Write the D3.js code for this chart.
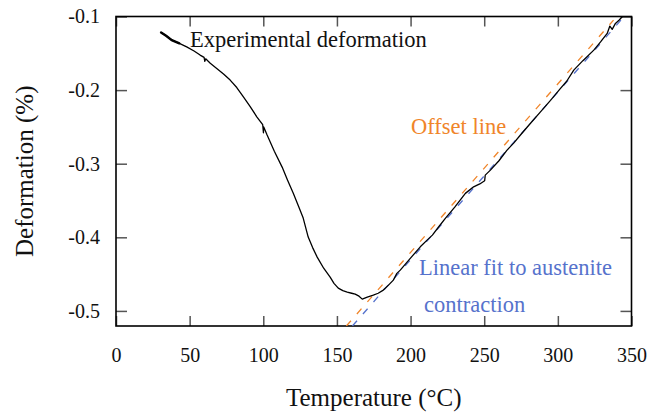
<!DOCTYPE html>
<html>
<head>
<meta charset="utf-8">
<script src="https://cdn.jsdelivr.net/npm/d3@7"></script>
<style>
  html, body { margin: 0; padding: 0; background: #fff; }
  svg { display: block; font-family: "Liberation Serif", "Times New Roman", serif; }
</style>
</head>
<body>
<svg id="chart" width="651" height="416"></svg>
<script>
// ---- data ----
const xTicks = [0, 50, 100, 150, 200, 250, 300, 350];
const yTicks = [-0.5, -0.4, -0.3, -0.2, -0.1];

// Experimental deformation curve: temperature (°C)
const expTemp = [30.6, 34.0, 37.9, 43.0, 48.0, 53.0, 57.1, 59.8, 60.3, 60.9, 64.0, 68.4, 73.0, 77.5, 82.0, 86.5, 91.0,
  95.6, 99.6, 100.1, 100.3, 102.6, 107.5, 112.8, 116.5, 120.3, 124.0, 127.1, 130.5, 133.5, 136.6, 141.0, 145.4, 148.0, 150.9,
  154.0, 157.0, 160.0, 162.4, 165.0, 167.2, 170.6, 174.7, 178.0, 181.5, 185.0, 188.3, 190.7, 193.0, 199.8, 206.6,
  211.2, 214.8, 219.0, 223.6, 230.0, 237.2, 242.8, 247.0, 250.3, 250.7, 254.2, 260.0, 265.5, 270.0, 274.6, 281.0,
  288.2, 295.0, 301.8, 306.0, 310.8, 317.0, 324.4, 329.0, 333.5, 335.3, 336.9, 339.1, 341.5, 343.7];
// Experimental deformation curve: deformation (%)
const expDef = [-0.1216, -0.1262, -0.1321, -0.1365, -0.1412, -0.1468, -0.1524, -0.1555, -0.1610, -0.1575, -0.1635, -0.1705, -0.1780, -0.1864, -0.1965, -0.2091, -0.2220,
  -0.2363, -0.2470, -0.2580, -0.2500, -0.2611, -0.2830, -0.3046, -0.3225, -0.3399, -0.3580, -0.3739, -0.3997, -0.4140, -0.4269, -0.4420, -0.4541, -0.4625, -0.4690,
  -0.4725, -0.4745, -0.4760, -0.4772, -0.4800, -0.4840, -0.4813, -0.4785, -0.4760, -0.4717, -0.4650, -0.4582, -0.4490, -0.4446, -0.4287, -0.4129,
  -0.4038, -0.3970, -0.3860, -0.3743, -0.3590, -0.3403, -0.3314, -0.3275, -0.3232, -0.3155, -0.3087, -0.2960, -0.2815, -0.2720, -0.2610, -0.2460,
  -0.2295, -0.2140, -0.1977, -0.1880, -0.1728, -0.1600, -0.1457, -0.1345, -0.1230, -0.1130, -0.1175, -0.1094, -0.1050, -0.1004];

// Offset line (orange dashed): temperature, deformation
const offsetTemp = [156.4, 337.8];
const offsetDef = [-0.5205, -0.1049];
// Linear fit to austenite contraction (blue dashed): temperature, deformation
const fitTemp = [160.5, 345.0];
const fitDef = [-0.5205, -0.1000];

// Annotation texts
const labelTexts = ["Experimental deformation", "Offset line", "Linear fit to austenite", "contraction"];

// ---- layout ----
const svg = d3.select("#chart");
const L = 116, R = 631.5, T = 16.5, B = 326;
const x = d3.scaleLinear().domain([0, 350]).range([L, R]);
const y = d3.scaleLinear().domain([-0.5205, -0.1]).range([B, T]);

const orange = "#F0852A";
const blue = "#5672CC";

svg.append("defs").append("clipPath").attr("id", "clip")
  .append("rect").attr("x", L).attr("y", T).attr("width", R - L).attr("height", B - T);

// axes with inward ticks
const tickColor = "#555";
const gB = svg.append("g").attr("transform", `translate(0,${B})`)
  .call(d3.axisBottom(x).tickValues(xTicks).tickSizeInner(-10).tickSizeOuter(0).tickPadding(22)
    .tickFormat(d => String(d)));
const gT = svg.append("g").attr("transform", `translate(0,${T})`)
  .call(d3.axisTop(x).tickValues(xTicks).tickSizeInner(-10).tickSizeOuter(0).tickFormat(""));
const gL = svg.append("g").attr("transform", `translate(${L},0)`)
  .call(d3.axisLeft(y).tickValues(yTicks).tickSizeInner(-11).tickSizeOuter(0).tickPadding(16)
    .tickFormat(d => d.toFixed(1)));
const gR = svg.append("g").attr("transform", `translate(${R},0)`)
  .call(d3.axisRight(y).tickValues(yTicks).tickSizeInner(-11).tickSizeOuter(0).tickFormat(""));

[gB, gT, gL, gR].forEach(g => {
  g.select(".domain").remove();
  g.selectAll(".tick line").attr("stroke", tickColor).attr("stroke-width", 1.5);
  g.selectAll(".tick text").attr("fill", "#111").attr("font-size", 20)
    .attr("font-family", "'Liberation Serif', serif");
});

// frame
svg.append("rect").attr("x", L).attr("y", T).attr("width", R - L).attr("height", B - T)
  .attr("fill", "none").attr("stroke", "#000").attr("stroke-width", 1.6);

const line = d3.line().x(d => x(d[0])).y(d => y(d[1]));
const plot = svg.append("g").attr("clip-path", "url(#clip)");

plot.append("path").datum(offsetTemp.map((t, i) => [t, offsetDef[i]]))
  .attr("d", line).attr("fill", "none").attr("stroke", orange)
  .attr("stroke-width", 1.3).attr("stroke-dasharray", "7,9");

plot.append("path").datum(fitTemp.map((t, i) => [t, fitDef[i]]))
  .attr("d", line).attr("fill", "none").attr("stroke", blue)
  .attr("stroke-width", 1.3).attr("stroke-dasharray", "7,9");

const expPts = expTemp.map((t, i) => [t, expDef[i]]);
plot.append("path").datum(expPts)
  .attr("d", line).attr("fill", "none").attr("stroke", "#000")
  .attr("stroke-width", 1.3).attr("stroke-linejoin", "round");
// the first readings are drawn heavier, as in the reference
plot.append("path").datum(expPts.slice(0, 4))
  .attr("d", line).attr("fill", "none").attr("stroke", "#000")
  .attr("stroke-width", 2.4).attr("stroke-linecap", "round");

// annotations
svg.append("text").attr("x", 190).attr("y", 47).attr("font-size", 22.5).attr("fill", "#111").text(labelTexts[0]);
svg.append("text").attr("x", 411).attr("y", 134).attr("font-size", 22.5).attr("fill", orange).text(labelTexts[1]);
svg.append("text").attr("x", 419).attr("y", 275).attr("font-size", 22.5).attr("fill", blue).text(labelTexts[2]);
svg.append("text").attr("x", 424).attr("y", 312).attr("font-size", 22.5).attr("fill", blue).text(labelTexts[3]);

// axis titles
svg.append("text").attr("x", (L + R) / 2).attr("y", 406).attr("text-anchor", "middle")
  .attr("font-size", 25).attr("fill", "#111").text("Temperature (°C)");
svg.append("text").attr("transform", `translate(33,${(T + B) / 2}) rotate(-90)`).attr("text-anchor", "middle")
  .attr("font-size", 25).attr("fill", "#111").text("Deformation (%)");
</script>
</body>
</html>
